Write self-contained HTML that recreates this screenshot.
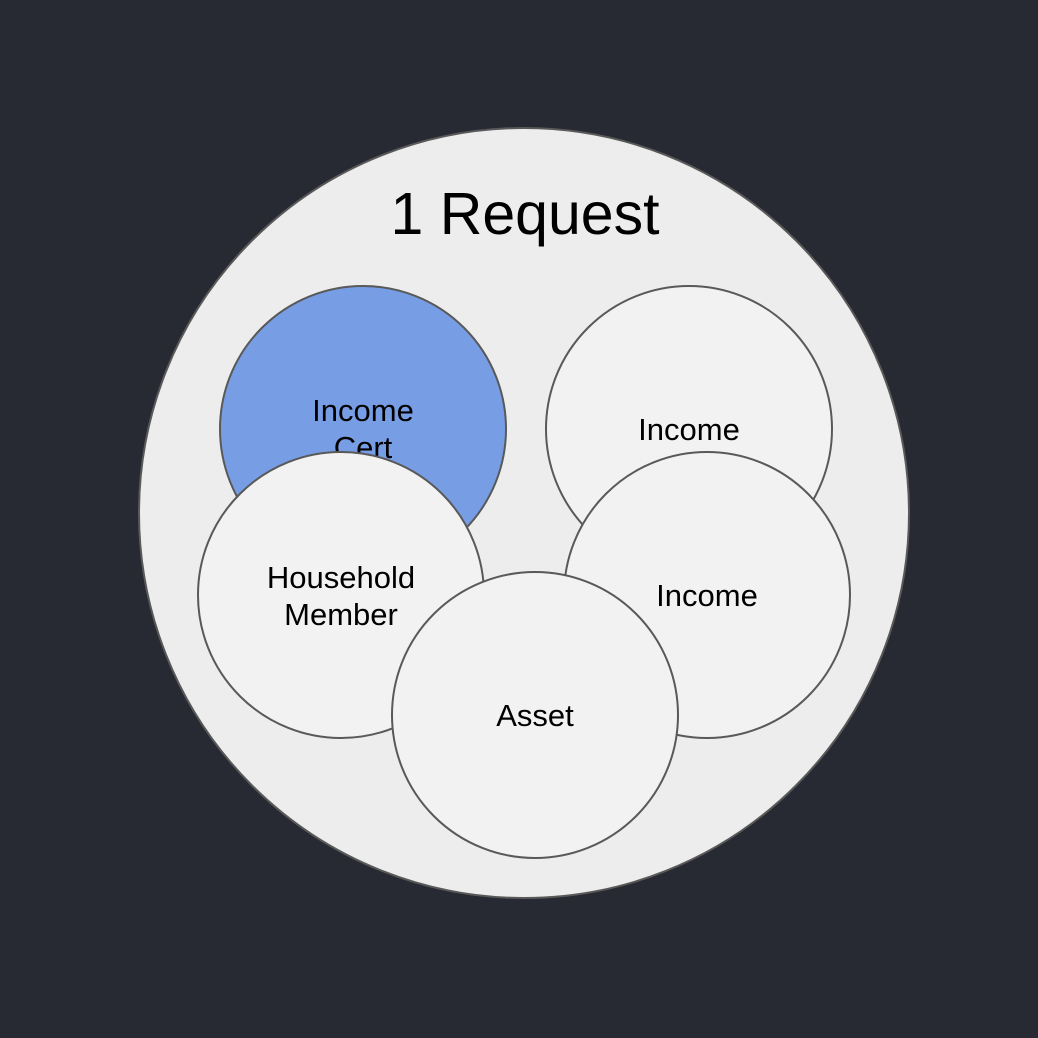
<!DOCTYPE html>
<html><head><style>html,body{margin:0;padding:0;background:#282a33;}</style></head>
<body>
<svg width="1038" height="1038" xmlns="http://www.w3.org/2000/svg" style="display:block">
<rect width="1038" height="1038" fill="#282a33"/>
<g stroke="#595959" stroke-width="2" font-family="Liberation Sans, sans-serif" text-anchor="middle">
<circle cx="524" cy="513" r="385" fill="#ededed"/>
<text x="525" y="234" font-size="59" fill="#000" stroke="none">1 Request</text>
<circle cx="363" cy="429" r="143" fill="#779ee5"/>
<text x="363" y="421" font-size="31" fill="#000" stroke="none">Income</text>
<text x="363" y="458" font-size="31" fill="#000" stroke="none">Cert</text>
<circle cx="689" cy="429" r="143" fill="#f2f2f2"/>
<text x="689" y="440" font-size="31" fill="#000" stroke="none">Income</text>
<circle cx="707" cy="595" r="143" fill="#f2f2f2"/>
<text x="707" y="606" font-size="31" fill="#000" stroke="none">Income</text>
<circle cx="341" cy="595" r="143" fill="#f2f2f2"/>
<text x="341" y="588" font-size="31" fill="#000" stroke="none">Household</text>
<text x="341" y="625" font-size="31" fill="#000" stroke="none">Member</text>
<circle cx="535" cy="715" r="143" fill="#f2f2f2"/>
<text x="535" y="726" font-size="31" fill="#000" stroke="none">Asset</text>
</g>
</svg>
</body></html>
